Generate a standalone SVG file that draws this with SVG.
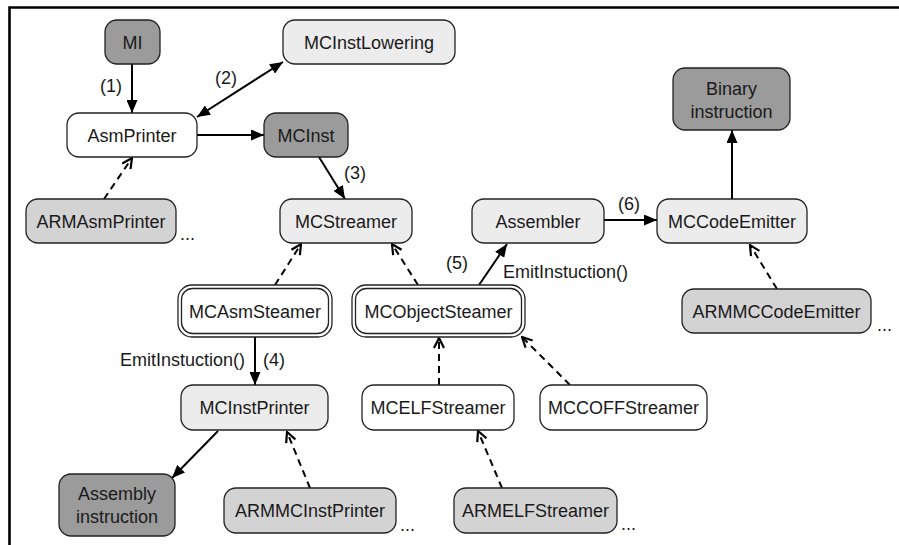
<svg xmlns="http://www.w3.org/2000/svg" width="899" height="545" viewBox="0 0 899 545">
<defs>
<style>
.n rect{stroke:#222;stroke-width:1.3}
.dark{fill:#9b9b9b}
.mid{fill:#d3d3d3}
.light{fill:#ececec}
.white{fill:#fff}
text{font-family:"Liberation Sans",Arial,sans-serif;font-size:18px;fill:#1a1a1a}
.c{text-anchor:middle}
.solid{fill:none;stroke:#000;stroke-width:2}
.dash{fill:none;stroke:#000;stroke-width:2;stroke-dasharray:7,5}
</style>
<marker id="af" viewBox="0 0 13 11" refX="13" refY="5.5" markerWidth="13" markerHeight="11" orient="auto" markerUnits="userSpaceOnUse"><path d="M0,0 L13,5.5 L0,11 z" fill="#000"/></marker>
<marker id="afs" viewBox="0 0 13 11" refX="13" refY="5.5" markerWidth="13" markerHeight="11" orient="auto-start-reverse" markerUnits="userSpaceOnUse"><path d="M0,0 L13,5.5 L0,11 z" fill="#000"/></marker>
<marker id="ao" viewBox="0 0 12 12" refX="11" refY="6" markerWidth="12" markerHeight="12" orient="auto" markerUnits="userSpaceOnUse"><path d="M1,1 L11,6 L1,11" fill="none" stroke="#000" stroke-width="2.2"/></marker>
</defs>
<rect width="899" height="545" fill="#fff"/>
<path d="M9.5,545 V7.5 H899" fill="none" stroke="#000" stroke-width="2.6"/>

<g id="connectors">
<line class="solid" x1="132" y1="64" x2="132" y2="113" marker-end="url(#af)"/>
<line class="solid" x1="197" y1="117" x2="283" y2="62" marker-start="url(#afs)" marker-end="url(#af)"/>
<line class="solid" x1="197" y1="135" x2="264" y2="135" marker-end="url(#af)"/>
<line class="solid" x1="319" y1="157" x2="345" y2="199" marker-end="url(#af)"/>
<line class="dash" x1="104" y1="199" x2="132" y2="158" marker-end="url(#ao)"/>
<line class="dash" x1="275" y1="285" x2="301" y2="244" marker-end="url(#ao)"/>
<line class="dash" x1="418" y1="285" x2="392" y2="244" marker-end="url(#ao)"/>
<line class="solid" x1="479" y1="285" x2="507" y2="244" marker-end="url(#af)"/>
<line class="solid" x1="604" y1="220" x2="657" y2="220" marker-end="url(#af)"/>
<line class="solid" x1="732" y1="199" x2="732" y2="130" marker-end="url(#af)"/>
<line class="dash" x1="777" y1="289" x2="750" y2="245" marker-end="url(#ao)"/>
<line class="solid" x1="255" y1="337" x2="255" y2="385" marker-end="url(#af)"/>
<line class="dash" x1="439" y1="385" x2="439" y2="338" marker-end="url(#ao)"/>
<line class="dash" x1="570" y1="385" x2="522" y2="337" marker-end="url(#ao)"/>
<line class="solid" x1="218" y1="431" x2="172" y2="478" marker-end="url(#af)"/>
<line class="dash" x1="310" y1="488" x2="287" y2="432" marker-end="url(#ao)"/>
<line class="dash" x1="502" y1="488" x2="478" y2="431" marker-end="url(#ao)"/>
<text class="c" x="111" y="92">(1)</text>
<text class="c" x="226" y="84">(2)</text>
<text class="c" x="355" y="179">(3)</text>
<text x="263" y="366">(4)</text>
<text class="c" x="457" y="269">(5)</text>
<text class="c" x="629" y="210">(6)</text>
<text x="245" y="366" text-anchor="end">EmitInstuction()</text>
<text x="503" y="278">EmitInstuction()</text>
</g>

<g id="MI" class="n"><rect class="dark" x="105" y="20" width="55" height="44" rx="12"/><text class="c" x="132.5" y="48.5">MI</text></g>
<g id="MCInstLowering" class="n"><rect class="light" x="283" y="20" width="172" height="44" rx="12"/><text class="c" x="369" y="48.5">MCInstLowering</text></g>
<g id="AsmPrinter" class="n"><rect class="white" x="67" y="113" width="130" height="44" rx="12"/><text class="c" x="132" y="141.5">AsmPrinter</text></g>
<g id="MCInst" class="n"><rect class="dark" x="264" y="113" width="84" height="44" rx="12"/><text class="c" x="306" y="141.5">MCInst</text></g>
<g id="ARMAsmPrinter" class="n"><rect class="mid" x="26" y="199" width="150" height="44" rx="12"/><text class="c" x="101" y="227.5">ARMAsmPrinter</text><text x="180" y="240">...</text></g>
<g id="MCStreamer" class="n"><rect class="light" x="280" y="199" width="132" height="44" rx="12"/><text class="c" x="346" y="227.5">MCStreamer</text></g>
<g id="BinaryInstruction" class="n"><rect class="dark" x="673" y="68" width="117" height="62" rx="12"/><text class="c" x="731.5" y="94.5">Binary</text><text class="c" x="731.5" y="118">instruction</text></g>
<g id="Assembler" class="n"><rect class="light" x="472" y="199" width="132" height="44" rx="12"/><text class="c" x="538" y="227.5">Assembler</text></g>
<g id="MCCodeEmitter" class="n"><rect class="light" x="657" y="199" width="150" height="44" rx="12"/><text class="c" x="732" y="227.5">MCCodeEmitter</text></g>
<g id="MCAsmSteamer" class="n"><rect class="white" x="178" y="285" width="154" height="52" rx="14"/><rect fill="none" x="181.5" y="288.5" width="147" height="45" rx="11"/><text class="c" x="255" y="317.5">MCAsmSteamer</text></g>
<g id="MCObjectSteamer" class="n"><rect class="white" x="352" y="285" width="173" height="52" rx="14"/><rect fill="none" x="355.5" y="288.5" width="166" height="45" rx="11"/><text class="c" x="438.5" y="317.5">MCObjectSteamer</text></g>
<g id="ARMMCCodeEmitter" class="n"><rect class="mid" x="682" y="289" width="189" height="44" rx="12"/><text class="c" x="776.5" y="317.5">ARMMCCodeEmitter</text><text x="877" y="331">...</text></g>
<g id="MCInstPrinter" class="n"><rect class="light" x="181" y="385" width="147" height="45" rx="12"/><text class="c" x="254.5" y="414">MCInstPrinter</text></g>
<g id="MCELFStreamer" class="n"><rect class="white" x="362" y="385" width="152" height="45" rx="12"/><text class="c" x="438" y="414">MCELFStreamer</text></g>
<g id="MCCOFFStreamer" class="n"><rect class="white" x="540" y="385" width="167" height="45" rx="12"/><text class="c" x="623.5" y="414">MCCOFFStreamer</text></g>
<g id="AssemblyInstruction" class="n"><rect class="dark" x="59" y="474" width="116" height="62" rx="12"/><text class="c" x="117" y="499.5">Assembly</text><text class="c" x="117" y="523">instruction</text></g>
<g id="ARMMCInstPrinter" class="n"><rect class="mid" x="224" y="488" width="172" height="45" rx="12"/><text class="c" x="310" y="517">ARMMCInstPrinter</text><text x="400" y="531">...</text></g>
<g id="ARMELFStreamer" class="n"><rect class="mid" x="454" y="488" width="163" height="45" rx="12"/><text class="c" x="535.5" y="517">ARMELFStreamer</text><text x="621" y="530">...</text></g>
</svg>
